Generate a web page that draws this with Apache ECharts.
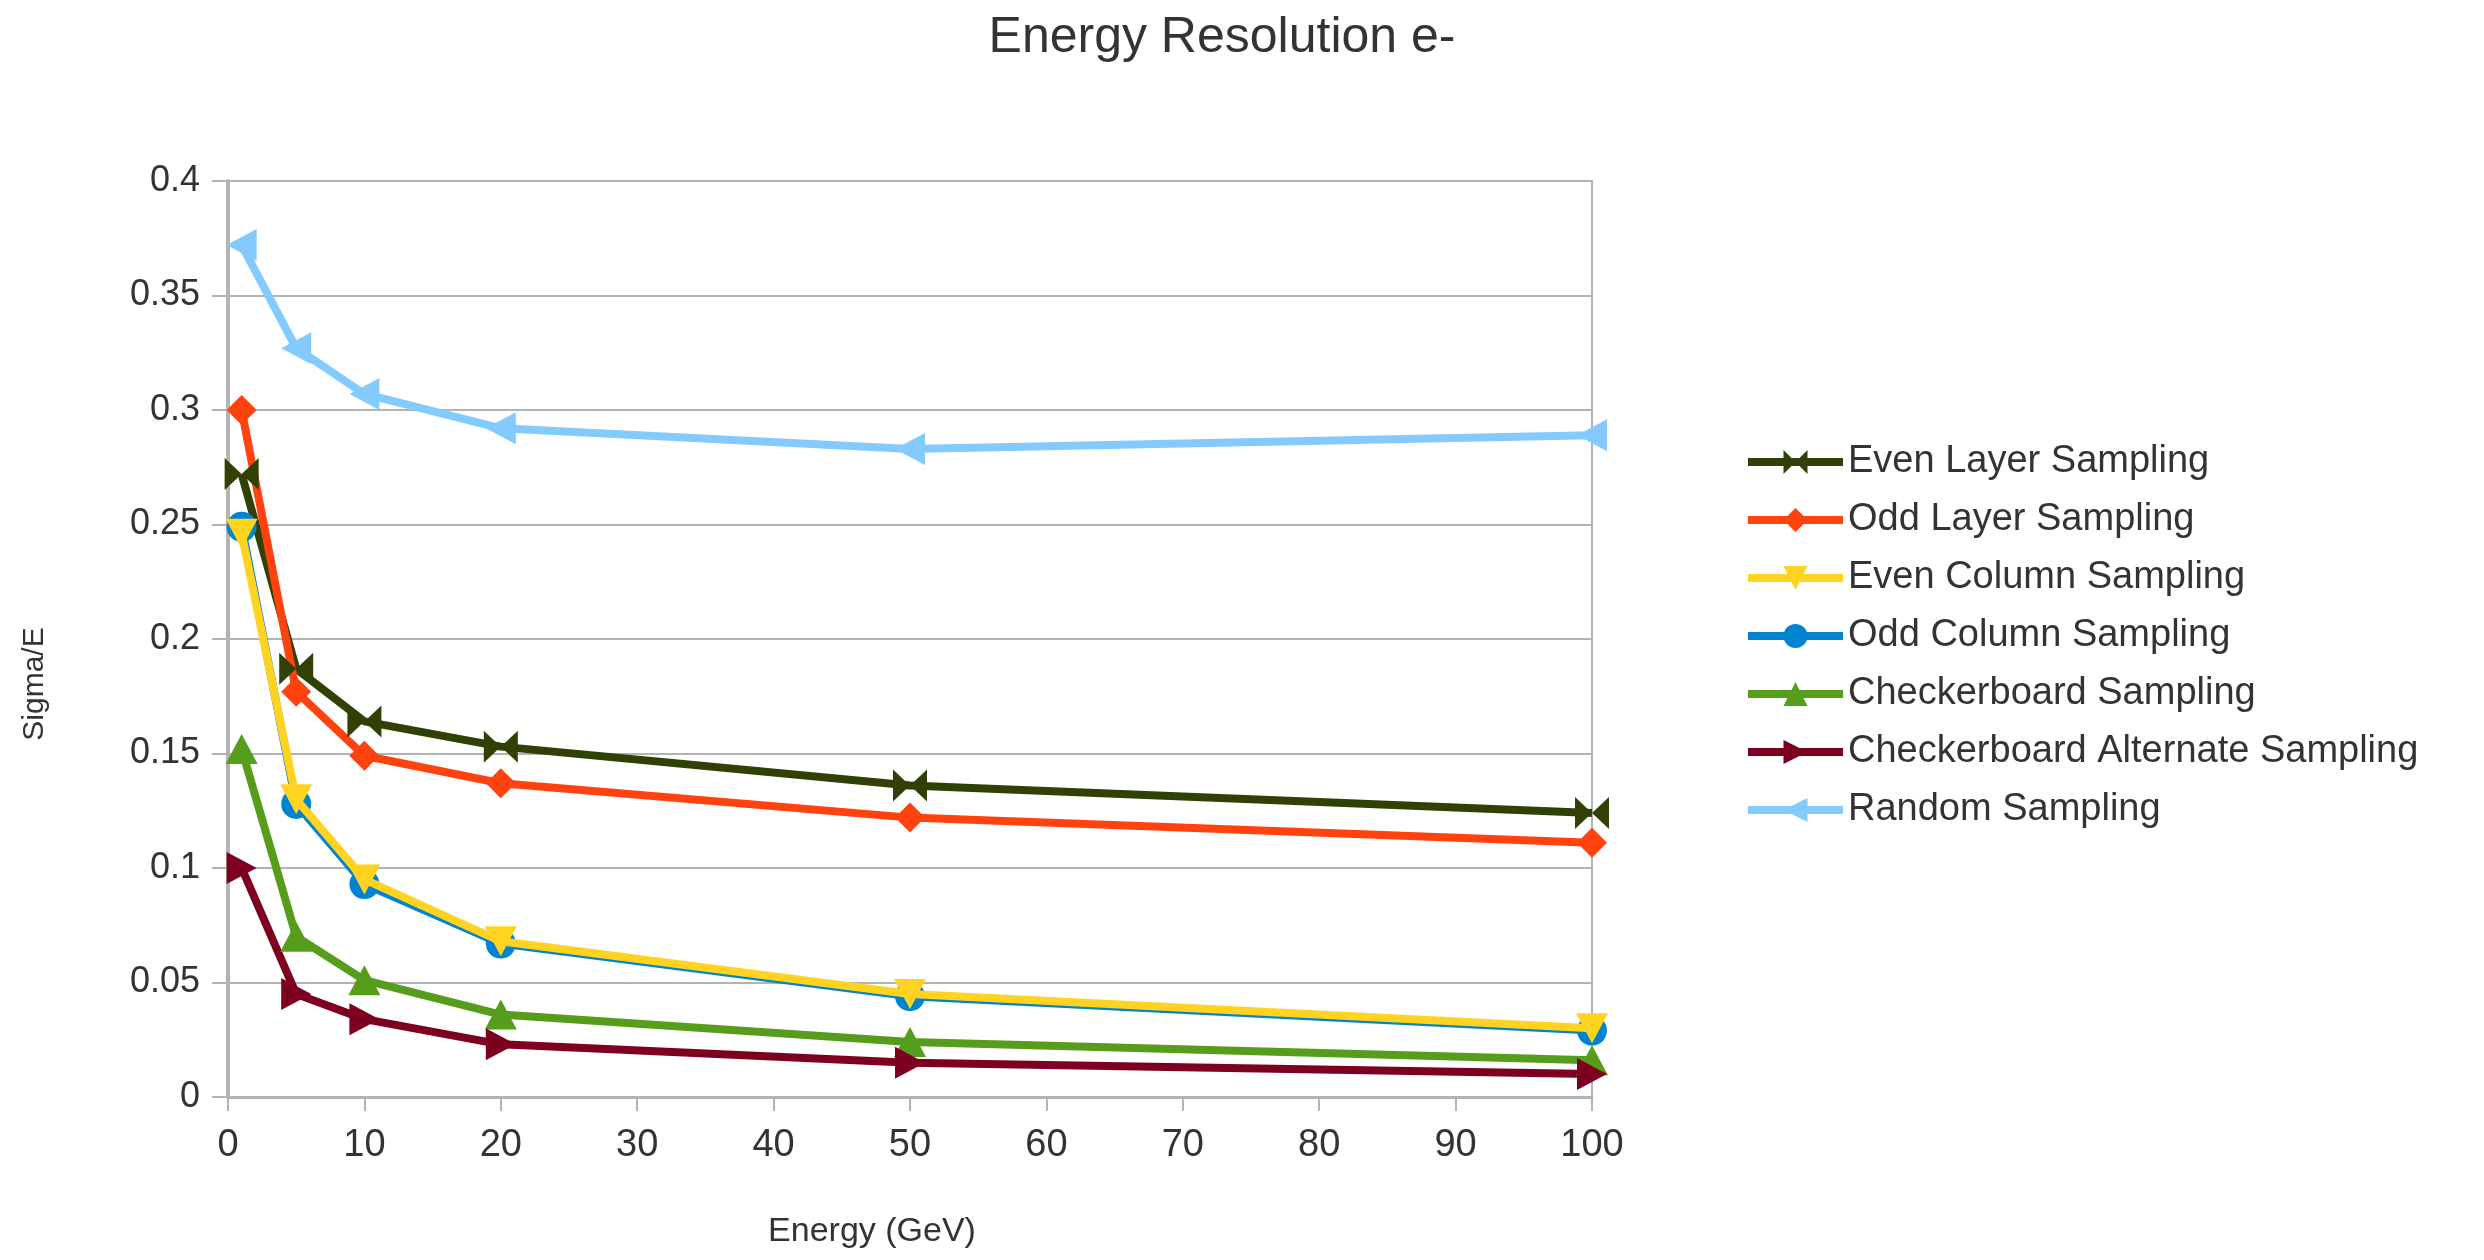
<!DOCTYPE html>
<html>
<head>
<meta charset="utf-8">
<title>Energy Resolution e-</title>
<script src="https://cdn.jsdelivr.net/npm/echarts@6/dist/echarts.min.js"></script>
<style>
  html, body { margin: 0; padding: 0; background: #fff; }
  #main { width: 2484px; height: 1260px; }
</style>
</head>
<body>
<div id="main"></div>
<script>
// energies (GeV)
var energy = [1, 5, 10, 20, 50, 100];
var xTicks = [0, 10, 20, 30, 40, 50, 60, 70, 80, 90, 100];
var yTicks = [0, 0.05, 0.1, 0.15, 0.2, 0.25, 0.3, 0.35, 0.4];

var evenLayer   = [0.272, 0.187, 0.164, 0.153, 0.136, 0.124];
var oddLayer    = [0.300, 0.177, 0.149, 0.137, 0.122, 0.111];
var evenColumn  = [0.246, 0.130, 0.095, 0.068, 0.045, 0.030];
var oddColumn   = [0.249, 0.128, 0.093, 0.067, 0.044, 0.029];
var checker     = [0.152, 0.070, 0.051, 0.036, 0.024, 0.016];
var checkerAlt  = [0.100, 0.045, 0.034, 0.023, 0.015, 0.010];
var randomSamp  = [0.372, 0.327, 0.307, 0.292, 0.283, 0.289];

var seriesNames = ['Even Layer Sampling', 'Odd Layer Sampling', 'Even Column Sampling',
    'Odd Column Sampling', 'Checkerboard Sampling', 'Checkerboard Alternate Sampling', 'Random Sampling'];
var seriesData = [evenLayer, oddLayer, evenColumn, oddColumn, checker, checkerAlt, randomSamp];
var colors = ['#314004', '#ff420e', '#ffd320', '#0084d1', '#579d1c', '#7e0021', '#83caff'];

// marker shapes
var symbols = [
    'path://M0,0 L10,5 L0,10 Z M20,0 L10,5 L20,10 Z',   // bowtie
    'diamond',
    'path://M0,0 L10,0 L5,10 Z',                        // down
    'circle',
    'triangle',
    'path://M0,0 L10,5 L0,10 Z',                        // right
    'path://M10,0 L0,5 L10,10 Z'                        // left
];
var symbolSizes = [[34, 32], 30, [32, 30], 30, [32, 30], [30, 32], [30, 32]];
var zs = [2, 2, 4, 3, 2, 2, 2];

var fontFam = '"Liberation Sans", Arial, sans-serif';

var series = seriesNames.map(function (name, i) {
    return {
        name: name,
        type: 'line',
        data: energy.map(function (e, j) { return [e, seriesData[i][j]]; }),
        symbol: symbols[i],
        symbolSize: symbolSizes[i],
        showSymbol: true,
        z: zs[i],
        lineStyle: { color: colors[i], width: 8 },
        itemStyle: { color: colors[i] },
        emphasis: { disabled: true },
        animation: false
    };
});

var chart = echarts.init(document.getElementById('main'));
chart.setOption({
    backgroundColor: '#fff',
    color: colors,
    title: {
        text: 'Energy Resolution e-',
        left: 1217,
        textAlign: 'center',
        top: 8,
        textStyle: { fontFamily: fontFam, fontSize: 50, fontWeight: 'normal', color: '#333' }
    },
    legend: {
        orient: 'vertical',
        left: 1739,
        top: 437,
        itemWidth: 95,
        itemHeight: 30,
        itemGap: 18,
        lineStyle: { width: 8 },
        textStyle: { fontFamily: fontFam, fontSize: 38, color: '#333', lineHeight: 40 },
        data: seriesNames
    },
    grid: {
        left: 228, right: 892, top: 181, bottom: 163,
        show: true, borderColor: '#b3b3b3', borderWidth: 2
    },
    xAxis: {
        type: 'value',
        min: 0, max: 100, interval: 10,
        name: 'Energy (GeV)',
        nameLocation: 'middle',
        nameGap: 118,
        nameTextStyle: { fontFamily: fontFam, fontSize: 34, color: '#333', padding: [0, 76, 0, 0] },
        axisLine: { show: true, lineStyle: { color: '#b3b3b3', width: 3 } },
        axisTick: { show: true, length: 14, lineStyle: { color: '#b3b3b3', width: 2 } },
        axisLabel: {
            margin: 30, fontFamily: fontFam, fontSize: 38, color: '#333',
            formatter: function (v) { return xTicks.indexOf(v) >= 0 ? String(v) : ''; }
        },
        splitLine: { show: false }
    },
    yAxis: {
        type: 'value',
        min: 0, max: 0.4, interval: 0.05,
        name: 'Sigma/E',
        nameLocation: 'middle',
        nameGap: 178,
        nameTextStyle: { fontFamily: fontFam, fontSize: 30, color: '#333', padding: [0, 0, 0, -90] },
        axisLine: { show: true, lineStyle: { color: '#b3b3b3', width: 4 } },
        axisTick: { show: true, length: 16, lineStyle: { color: '#b3b3b3', width: 2 } },
        axisLabel: {
            margin: 28, fontFamily: fontFam, fontSize: 36, color: '#333',
            formatter: function (v) {
                var r = Math.round(v * 100) / 100;
                return yTicks.indexOf(r) >= 0 ? String(r) : '';
            }
        },
        splitLine: { show: true, lineStyle: { color: '#b3b3b3', width: 2 } }
    },
    series: series
});
</script>
</body>
</html>
